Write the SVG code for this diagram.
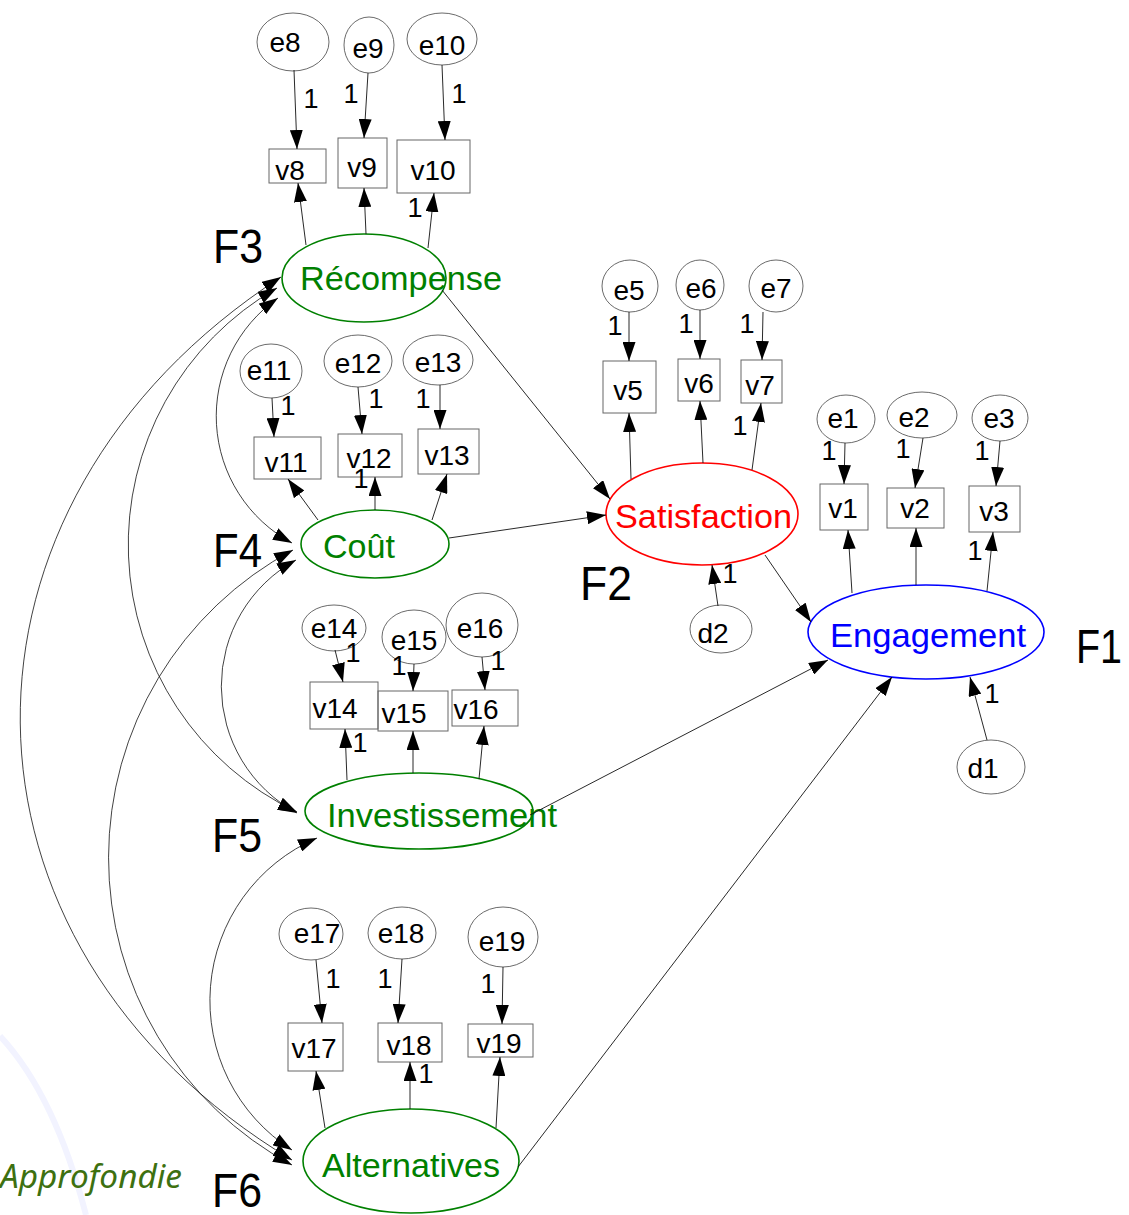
<svg xmlns="http://www.w3.org/2000/svg" width="1129" height="1215" viewBox="0 0 1129 1215">
<defs>
<marker id="ah" markerUnits="userSpaceOnUse" markerWidth="19" markerHeight="13" refX="19" refY="6.5" orient="auto-start-reverse">
<path d="M0,0 L19,6.5 L0,13 z" fill="#000"/>
</marker>
</defs>
<style>
.t{font-family:"Liberation Sans",Arial,sans-serif;font-size:28px;fill:#000;text-anchor:middle}
.one{font-family:"Liberation Sans",Arial,sans-serif;font-size:27px;fill:#000;text-anchor:middle}
.lt{font-family:"Liberation Sans",Arial,sans-serif;font-size:34px}
.f{font-family:"Liberation Sans",Arial,sans-serif;font-size:48px;fill:#000}
.err{fill:none;stroke:#444;stroke-width:0.8}
.obs{fill:none;stroke:#666;stroke-width:1}
.lat{fill:none;stroke-width:1.6}
.g{stroke:#008000}
.gt{fill:#008000}
.c{stroke:#111;stroke-width:0.9;fill:none;marker-end:url(#ah)}
.cov{stroke:#111;stroke-width:0.8;fill:none;marker-start:url(#ah);marker-end:url(#ah)}
</style>
<rect width="1129" height="1215" fill="#fff"/>
<path d="M0,1036 Q55,1095 86,1215" fill="none" stroke="#f2f3ff" stroke-width="6"/>
<text x="0" y="1188" font-family="'Noto Sans','Open Sans',sans-serif" font-style="italic" font-size="32" fill="#3d7010" textLength="182" lengthAdjust="spacingAndGlyphs">Approfondie</text>

<g id="F3">
<ellipse class="lat g" cx="364" cy="278" rx="82" ry="44"/>
<text class="lt gt" x="300" y="290" textLength="202" lengthAdjust="spacingAndGlyphs">Récompense</text>
<text class="f" x="213" y="263" textLength="50" lengthAdjust="spacingAndGlyphs">F3</text>
</g>
<g id="F4">
<ellipse class="lat g" cx="375" cy="544" rx="74" ry="34"/>
<text class="lt gt" x="323" y="558" textLength="72" lengthAdjust="spacingAndGlyphs">Coût</text>
<text class="f" x="213" y="567" textLength="49" lengthAdjust="spacingAndGlyphs">F4</text>
</g>
<g id="F5">
<ellipse class="lat g" cx="419" cy="811" rx="114" ry="38"/>
<text class="lt gt" x="327" y="827" textLength="230" lengthAdjust="spacingAndGlyphs">Investissement</text>
<text class="f" x="212" y="852" textLength="50" lengthAdjust="spacingAndGlyphs">F5</text>
</g>
<g id="F6">
<ellipse class="lat g" cx="411" cy="1161" rx="108" ry="52"/>
<text class="lt gt" x="322" y="1177" textLength="178" lengthAdjust="spacingAndGlyphs">Alternatives</text>
<text class="f" x="212" y="1207" textLength="50" lengthAdjust="spacingAndGlyphs">F6</text>
</g>
<g id="F2">
<ellipse class="lat" stroke="#ff0000" cx="702" cy="514" rx="96" ry="51"/>
<text class="lt" fill="#ff0000" x="615" y="528" textLength="177" lengthAdjust="spacingAndGlyphs">Satisfaction</text>
<text class="f" x="580" y="600" textLength="52" lengthAdjust="spacingAndGlyphs">F2</text>
</g>
<g id="F1">
<ellipse class="lat" stroke="#0000ff" cx="926" cy="632" rx="118" ry="47"/>
<text class="lt" fill="#0000ff" x="830" y="647" textLength="196" lengthAdjust="spacingAndGlyphs">Engagement</text>
<text class="f" x="1076" y="663" textLength="46" lengthAdjust="spacingAndGlyphs">F1</text>
</g>

<g id="e8"><ellipse class="err" cx="293" cy="42" rx="36" ry="29"/><text class="t" x="285" y="52">e8</text></g>
<g id="e9"><ellipse class="err" cx="369" cy="45" rx="25" ry="28"/><text class="t" x="368" y="58">e9</text></g>
<g id="e10"><ellipse class="err" cx="442" cy="39" rx="35" ry="26"/><text class="t" x="442" y="55">e10</text></g>
<g id="e11"><ellipse class="err" cx="271" cy="371" rx="31" ry="27"/><text class="t" x="269" y="380">e11</text></g>
<g id="e12"><ellipse class="err" cx="358" cy="361" rx="34" ry="26"/><text class="t" x="358" y="373">e12</text></g>
<g id="e13"><ellipse class="err" cx="438" cy="360" rx="35" ry="25"/><text class="t" x="438" y="372">e13</text></g>
<g id="e14"><ellipse class="err" cx="334" cy="628" rx="32" ry="23"/><text class="t" x="334" y="638">e14</text></g>
<g id="e15"><ellipse class="err" cx="414" cy="637" rx="32" ry="27"/><text class="t" x="414" y="650">e15</text></g>
<g id="e16"><ellipse class="err" cx="482" cy="625" rx="36" ry="32"/><text class="t" x="480" y="638">e16</text></g>
<g id="e17"><ellipse class="err" cx="311" cy="934" rx="32" ry="26"/><text class="t" x="317" y="943">e17</text></g>
<g id="e18"><ellipse class="err" cx="402" cy="933" rx="34" ry="26"/><text class="t" x="401" y="943">e18</text></g>
<g id="e19"><ellipse class="err" cx="503" cy="937" rx="35" ry="30"/><text class="t" x="502" y="951">e19</text></g>
<g id="e5"><ellipse class="err" cx="630" cy="286" rx="28" ry="26"/><text class="t" x="629" y="300">e5</text></g>
<g id="e6"><ellipse class="err" cx="700" cy="285" rx="24" ry="25"/><text class="t" x="701" y="298">e6</text></g>
<g id="e7"><ellipse class="err" cx="776" cy="286" rx="27" ry="26"/><text class="t" x="776" y="298">e7</text></g>
<g id="d2"><ellipse class="err" cx="721" cy="629" rx="31" ry="24"/><text class="t" x="713" y="643">d2</text></g>
<g id="e1"><ellipse class="err" cx="846" cy="419" rx="29" ry="24"/><text class="t" x="843" y="428">e1</text></g>
<g id="e2"><ellipse class="err" cx="922" cy="415" rx="35" ry="23"/><text class="t" x="914" y="427">e2</text></g>
<g id="e3"><ellipse class="err" cx="1000" cy="418" rx="28" ry="23"/><text class="t" x="999" y="428">e3</text></g>
<g id="d1"><ellipse class="err" cx="991" cy="767" rx="34" ry="27"/><text class="t" x="983" y="778">d1</text></g>

<g id="v8"><rect class="obs" x="269" y="149" width="57" height="34"/><text class="t" x="290" y="180">v8</text></g>
<g id="v9"><rect class="obs" x="338" y="138" width="49" height="50"/><text class="t" x="362" y="177">v9</text></g>
<g id="v10"><rect class="obs" x="397" y="140" width="73" height="53"/><text class="t" x="433" y="180">v10</text></g>
<g id="v11"><rect class="obs" x="254" y="437" width="67" height="42"/><text class="t" x="286" y="472">v11</text></g>
<g id="v12"><rect class="obs" x="338" y="434" width="64" height="43"/><text class="t" x="369" y="468">v12</text></g>
<g id="v13"><rect class="obs" x="418" y="429" width="61" height="45"/><text class="t" x="447" y="465">v13</text></g>
<g id="v14"><rect class="obs" x="310" y="682" width="68" height="47"/><text class="t" x="335" y="718">v14</text></g>
<g id="v15"><rect class="obs" x="378" y="691" width="70" height="40"/><text class="t" x="404" y="723">v15</text></g>
<g id="v16"><rect class="obs" x="452" y="690" width="66" height="36"/><text class="t" x="476" y="719">v16</text></g>
<g id="v17"><rect class="obs" x="288" y="1023" width="55" height="48"/><text class="t" x="314" y="1058">v17</text></g>
<g id="v18"><rect class="obs" x="378" y="1023" width="64" height="39"/><text class="t" x="409" y="1055">v18</text></g>
<g id="v19"><rect class="obs" x="468" y="1024" width="65" height="33"/><text class="t" x="499" y="1053">v19</text></g>
<g id="v5"><rect class="obs" x="603" y="361" width="53" height="52"/><text class="t" x="628" y="400">v5</text></g>
<g id="v6"><rect class="obs" x="678" y="359" width="42" height="42"/><text class="t" x="699" y="393">v6</text></g>
<g id="v7"><rect class="obs" x="741" y="360" width="41" height="43"/><text class="t" x="760" y="395">v7</text></g>
<g id="v1"><rect class="obs" x="820" y="484" width="48" height="46"/><text class="t" x="843" y="518">v1</text></g>
<g id="v2"><rect class="obs" x="887" y="488" width="57" height="40"/><text class="t" x="915" y="518">v2</text></g>
<g id="v3"><rect class="obs" x="969" y="486" width="51" height="46"/><text class="t" x="994" y="521">v3</text></g>

<g id="connectors">
<line class="c" x1="294" y1="70" x2="297" y2="149"/>
<line class="c" x1="368" y1="73" x2="364" y2="138"/>
<line class="c" x1="442" y1="65" x2="445" y2="140"/>
<line class="c" x1="306" y1="245" x2="298" y2="183"/>
<line class="c" x1="366" y1="234" x2="364" y2="188"/>
<line class="c" x1="428" y1="248" x2="434" y2="193"/>
<line class="c" x1="272" y1="398" x2="274" y2="437"/>
<line class="c" x1="358" y1="387" x2="362" y2="434"/>
<line class="c" x1="440" y1="385" x2="440" y2="429"/>
<line class="c" x1="318" y1="520" x2="288" y2="479"/>
<line class="c" x1="375" y1="510" x2="375" y2="477"/>
<line class="c" x1="432" y1="520" x2="447" y2="474"/>
<line class="c" x1="335" y1="650" x2="343" y2="682"/>
<line class="c" x1="414" y1="664" x2="413" y2="691"/>
<line class="c" x1="482" y1="657" x2="485" y2="690"/>
<line class="c" x1="347" y1="780" x2="345" y2="729"/>
<line class="c" x1="413" y1="773" x2="413" y2="731"/>
<line class="c" x1="479" y1="779" x2="484" y2="726"/>
<line class="c" x1="316" y1="960" x2="322" y2="1023"/>
<line class="c" x1="402" y1="959" x2="398" y2="1023"/>
<line class="c" x1="503" y1="967" x2="502" y2="1024"/>
<line class="c" x1="325" y1="1128" x2="316" y2="1071"/>
<line class="c" x1="410" y1="1109" x2="410" y2="1062"/>
<line class="c" x1="496" y1="1128" x2="500" y2="1057"/>
<line class="c" x1="629" y1="312" x2="629" y2="361"/>
<line class="c" x1="700" y1="310" x2="700" y2="359"/>
<line class="c" x1="763" y1="312" x2="762" y2="360"/>
<line class="c" x1="631" y1="479" x2="629" y2="413"/>
<line class="c" x1="703" y1="463" x2="700" y2="401"/>
<line class="c" x1="752" y1="470" x2="761" y2="403"/>
<line class="c" x1="718" y1="606" x2="712" y2="565"/>
<line class="c" x1="845" y1="443" x2="844" y2="484"/>
<line class="c" x1="923" y1="438" x2="915" y2="488"/>
<line class="c" x1="1000" y1="441" x2="996" y2="486"/>
<line class="c" x1="852" y1="593" x2="848" y2="530"/>
<line class="c" x1="916" y1="585" x2="916" y2="528"/>
<line class="c" x1="987" y1="591" x2="993" y2="532"/>
<line class="c" x1="987" y1="740" x2="970" y2="677"/>
<line class="c" x1="442" y1="290" x2="610" y2="499"/>
<line class="c" x1="449" y1="538" x2="606" y2="515"/>
<line class="c" x1="765" y1="555" x2="811" y2="622"/>
<line class="c" x1="530" y1="815" x2="828" y2="660"/>
<line class="c" x1="518" y1="1167" x2="892" y2="677"/>
<path class="cov" d="M278,298 A144,144 0 0 0 292,543"/>
<path class="cov" d="M277,288 A296,296 0 0 0 297,812"/>
<path class="cov" d="M281,277 C-70,505 -67,944 292,1160"/>
<path class="cov" d="M296,560 A144,144 0 0 0 297,813"/>
<path class="cov" d="M293,550 A349,349 0 0 0 292,1165"/>
<path class="cov" d="M317,838 A177,177 0 0 0 292,1150"/>
</g>

<g id="weights">
<text class="one" x="311" y="108">1</text>
<text class="one" x="351" y="103">1</text>
<text class="one" x="459" y="103">1</text>
<text class="one" x="415" y="217">1</text>
<text class="one" x="288" y="415">1</text>
<text class="one" x="376" y="408">1</text>
<text class="one" x="423" y="408">1</text>
<text class="one" x="361" y="488">1</text>
<text class="one" x="353" y="662">1</text>
<text class="one" x="399" y="675">1</text>
<text class="one" x="498" y="670">1</text>
<text class="one" x="360" y="752">1</text>
<text class="one" x="333" y="988">1</text>
<text class="one" x="385" y="988">1</text>
<text class="one" x="488" y="993">1</text>
<text class="one" x="426" y="1083">1</text>
<text class="one" x="615" y="335">1</text>
<text class="one" x="686" y="333">1</text>
<text class="one" x="747" y="333">1</text>
<text class="one" x="740" y="435">1</text>
<text class="one" x="730" y="583">1</text>
<text class="one" x="829" y="460">1</text>
<text class="one" x="903" y="458">1</text>
<text class="one" x="982" y="460">1</text>
<text class="one" x="975" y="560">1</text>
<text class="one" x="992" y="703">1</text>
</g>
</svg>
